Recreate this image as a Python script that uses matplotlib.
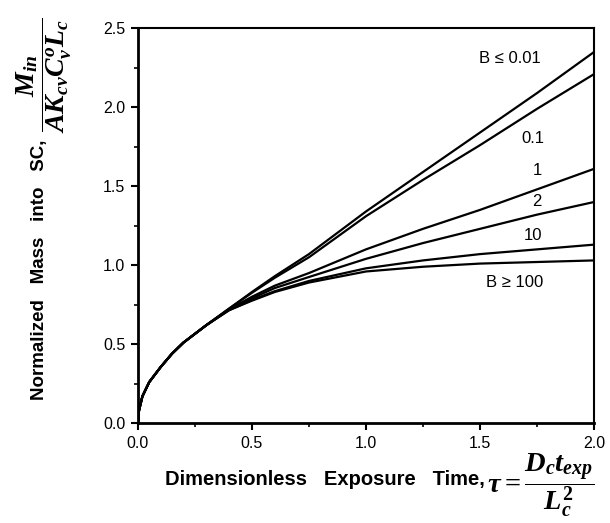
import matplotlib
matplotlib.use("Agg")
import matplotlib.pyplot as plt
from matplotlib.ticker import MultipleLocator

# --------------------------------
# data
# --------------------------------
tau = [0.0, 0.005, 0.02, 0.05, 0.1, 0.15, 0.2, 0.25, 0.3, 0.4,
       0.5, 0.6, 0.75, 1.0, 1.25, 1.5, 1.75, 2.0]
early = [0.0, 0.08, 0.17, 0.26, 0.355, 0.44, 0.51, 0.565, 0.62]

m_b001 = early + [0.725, 0.83, 0.93, 1.07, 1.34, 1.59, 1.84, 2.09, 2.35]
m_b01 = early + [0.725, 0.825, 0.92, 1.05, 1.31, 1.54, 1.76, 1.99, 2.21]
m_b1 = early + [0.72, 0.80, 0.87, 0.95, 1.10, 1.23, 1.35, 1.48, 1.61]
m_b2 = early + [0.72, 0.79, 0.855, 0.925, 1.04, 1.14, 1.23, 1.32, 1.40]
m_b10 = early + [0.715, 0.78, 0.835, 0.90, 0.98, 1.03, 1.07, 1.10, 1.13]
m_b100 = early + [0.715, 0.775, 0.83, 0.89, 0.96, 0.99, 1.01, 1.02, 1.03]

series = [m_b001, m_b01, m_b1, m_b2, m_b10, m_b100]
labels = ["B ≤ 0.01", "0.1", "1", "2", "10", "B ≥ 100"]
label_pos = [(1.63, 2.31), (1.73, 1.80), (1.75, 1.60),
             (1.75, 1.40), (1.73, 1.19), (1.65, 0.89)]

plt.rcParams["font.family"] = ["Liberation Sans", "DejaVu Sans"]
plt.rcParams["mathtext.fontset"] = "custom"
plt.rcParams["mathtext.it"] = "Liberation Serif:italic:bold"
plt.rcParams["mathtext.rm"] = "Liberation Serif:bold"
plt.rcParams["mathtext.bf"] = "Liberation Serif:bold"

fig = plt.figure(figsize=(6.1, 5.23), dpi=100)
ax = fig.add_axes([0.226, 0.191, 0.748, 0.755])

for ys in series:
    ax.plot(tau, ys, color="black", lw=1.6)

for lab, (x, y) in zip(labels, label_pos):
    ax.text(x, y, lab, ha="center", va="center", fontsize=12)

ax.set_xlim(0, 2.0)
ax.set_ylim(0, 2.5)
ax.xaxis.set_major_locator(MultipleLocator(0.5))
ax.xaxis.set_minor_locator(MultipleLocator(0.25))
ax.yaxis.set_major_locator(MultipleLocator(0.5))
ax.yaxis.set_minor_locator(MultipleLocator(0.25))
ax.xaxis.set_major_formatter(lambda v, p: f"{v:.1f}")
ax.yaxis.set_major_formatter(lambda v, p: f"{v:.1f}")
ax.tick_params(which="major", direction="out", length=5, width=1.5,
               labelsize=11.5, pad=4)
ax.tick_params(which="minor", direction="out", length=3, width=1.2)
for side in ["left", "bottom"]:
    ax.spines[side].set_linewidth(2.0)
for side in ["top", "right"]:
    ax.spines[side].set_linewidth(1.5)

# axis titles (text + big formula, placed separately)
fig.text(485 / 610, 1 - 485 / 523, "Dimensionless   Exposure   Time,",
         ha="right", va="baseline", fontsize=14.5, fontweight="bold")
fig.text(487 / 610, 1 - 485 / 523,
         r"$\tau = \dfrac{D_c t_{exp}}{L_c^2}$",
         ha="left", va="center", fontsize=20.5)

fig.text(40 / 610, 1 - 400 / 523, "Normalized   Mass   into   SC,",
         rotation=90, ha="center", va="bottom", fontsize=13.5,
         fontweight="bold")
fig.text(44 / 610, 1 - 133 / 523,
         r"$\dfrac{M_{in}}{AK_{cv}C^{o}_{v}L_c}$",
         rotation=90, ha="center", va="bottom", fontsize=20)

fig.savefig("out.png", dpi=100)
